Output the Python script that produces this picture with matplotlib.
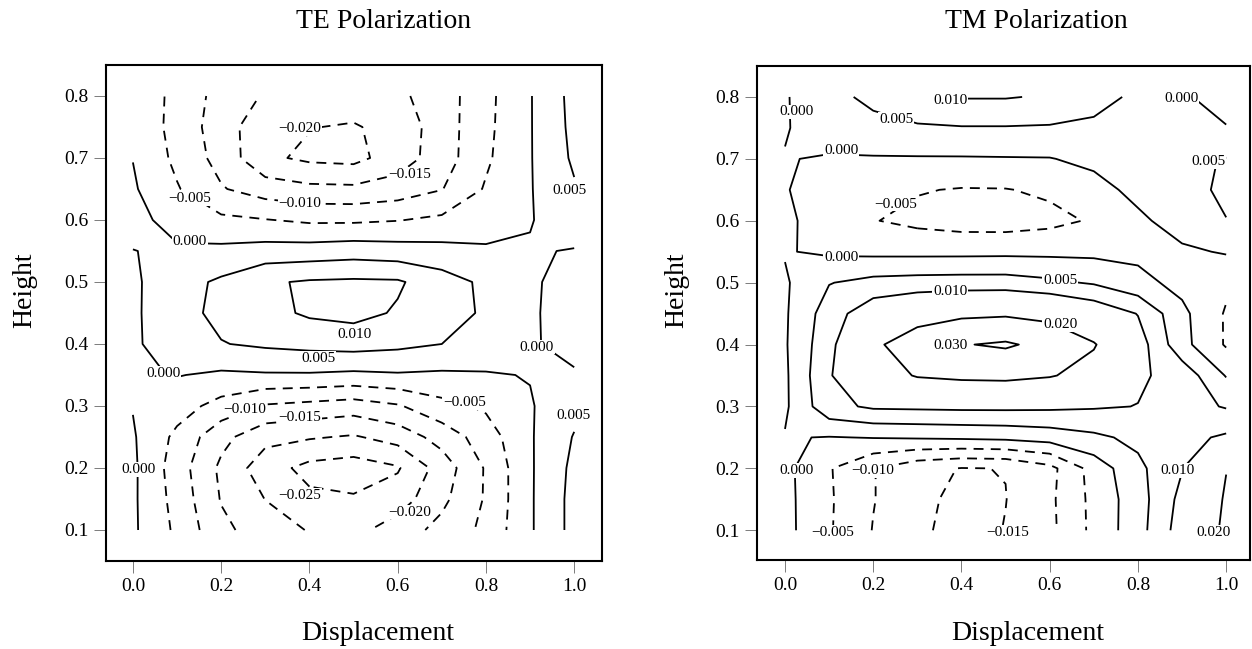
import numpy as np
import matplotlib
matplotlib.use("Agg")
import matplotlib.pyplot as plt

plt.rcParams["font.family"] = ["Liberation Serif", "DejaVu Serif"]
plt.rcParams["lines.dashed_pattern"] = [5.5, 4.0]

# Grid coordinates of the sampled fields
displacement = [0.0, 0.1, 0.2, 0.3, 0.4, 0.5, 0.6, 0.7, 0.8, 0.9, 1.0]
height = [0.10, 0.15, 0.20, 0.25, 0.30, 0.35, 0.40, 0.45,
          0.50, 0.55, 0.60, 0.65, 0.70, 0.75, 0.80]

# TE field: one list per displacement column, values from low to high height
te_columns = [
    [0.0008, 0.0008, 0.0009, 0.0005, -0.0002, -0.0006, -0.0007, -0.0008, -0.0008, -0.0001, 0.0018, 0.0006, -0.0001, -0.0010, -0.0012],
    [-0.0060, -0.0068, -0.0075, -0.0062, -0.0028, 0.0002, 0.0025, 0.0033, 0.0031, 0.0008, -0.0022, -0.0046, -0.0062, -0.0068, -0.0065],
    [-0.0138, -0.0153, -0.0160, -0.0135, -0.0068, -0.0008, 0.0048, 0.0062, 0.0058, 0.0012, -0.0040, -0.0096, -0.0118, -0.0125, -0.0118],
    [-0.0175, -0.0201, -0.0228, -0.0185, -0.0105, -0.0005, 0.0058, 0.0085, 0.0094, 0.0020, -0.0048, -0.0125, -0.0190, -0.0185, -0.0155],
    [-0.0203, -0.0240, -0.0265, -0.0195, -0.0115, -0.0005, 0.0065, 0.0107, 0.0105, 0.0022, -0.0058, -0.0138, -0.0210, -0.0198, -0.0165],
    [-0.0215, -0.0245, -0.0275, -0.0205, -0.0125, -0.0010, 0.0070, 0.0115, 0.0108, 0.0028, -0.0058, -0.0140, -0.0215, -0.0205, -0.0170],
    [-0.0175, -0.0225, -0.0255, -0.0180, -0.0105, -0.0005, 0.0062, 0.0095, 0.0106, 0.0022, -0.0052, -0.0128, -0.0175, -0.0180, -0.0160],
    [-0.0135, -0.0162, -0.0178, -0.0130, -0.0065, -0.0008, 0.0050, 0.0075, 0.0072, 0.0016, -0.0040, -0.0102, -0.0125, -0.0125, -0.0125],
    [-0.0088, -0.0095, -0.0095, -0.0075, -0.0042, -0.0004, 0.0032, 0.0042, 0.0040, 0.0008, -0.0028, -0.0045, -0.0058, -0.0062, -0.0064],
    [-0.0006, -0.0006, -0.0006, -0.0005, -0.0004, 0.0002, 0.0005, 0.0006, 0.0006, 0.0003, -0.0002, -0.0003, -0.0003, -0.0003, -0.0003],
    [0.0066, 0.0066, 0.0062, 0.0053, 0.0035, 0.0005, -0.0015, -0.0020, -0.0016, -0.0002, 0.0020, 0.0045, 0.0058, 0.0063, 0.0066],
]

# TM field: one list per height row, values from left to right in displacement
tm_rows = [
    [0.0015, -0.0045, -0.0102, -0.0138, -0.0172, -0.0148, -0.0112, -0.0037, 0.0030, 0.0125, 0.0215],
    [0.0014, -0.0044, -0.0098, -0.0135, -0.0165, -0.0151, -0.0110, -0.0036, 0.0028, 0.0115, 0.0208],
    [0.0013, -0.0046, -0.0098, -0.0135, -0.0152, -0.0149, -0.0115, -0.0030, 0.0038, 0.0098, 0.0198],
    [0.0003, -0.0002, 0.0002, 0.0005, 0.0008, 0.0012, 0.0022, 0.0040, 0.0062, 0.0085, 0.0108],
    [-0.0008, 0.0085, 0.0108, 0.0110, 0.0112, 0.0112, 0.0110, 0.0105, 0.0099, 0.0070, 0.0046],
    [-0.0008, 0.0095, 0.0165, 0.0205, 0.0215, 0.0218, 0.0205, 0.0175, 0.0108, 0.0081, -0.0003],
    [-0.0005, 0.0085, 0.0185, 0.0245, 0.0295, 0.0312, 0.0272, 0.0205, 0.0125, 0.0016, -0.0055],
    [-0.0006, 0.0075, 0.0135, 0.0165, 0.0182, 0.0188, 0.0172, 0.0140, 0.0098, 0.0012, -0.0055],
    [-0.0006, 0.0048, 0.0065, 0.0070, 0.0072, 0.0072, 0.0060, 0.0045, 0.0015, -0.0015, -0.0040],
    [0.0003, -0.0008, -0.0012, -0.0013, -0.0013, -0.0012, -0.0012, -0.0012, -0.0012, -0.0008, 0.0004],
    [0.0012, -0.0030, -0.0048, -0.0062, -0.0071, -0.0072, -0.0063, -0.0045, -0.0010, 0.0022, 0.0049],
    [0.0003, -0.0025, -0.0038, -0.0047, -0.0053, -0.0052, -0.0042, -0.0018, 0.0014, 0.0035, 0.0058],
    [0.0002, -0.0004, -0.0004, -0.0004, -0.0004, -0.0003, -0.0002, 0.0012, 0.0028, 0.0042, 0.0052],
    [-0.0003, 0.0022, 0.0035, 0.0043, 0.0047, 0.0047, 0.0045, 0.0040, 0.0035, 0.0025, 0.0003],
    [-0.0004, 0.0035, 0.0062, 0.0092, 0.0103, 0.0103, 0.0095, 0.0068, 0.0040, 0.0008, -0.0025],
]

te_levels = [-0.025, -0.020, -0.015, -0.010, -0.005, 0.000, 0.005, 0.010]
tm_levels = [-0.015, -0.010, -0.005, 0.000, 0.005, 0.010, 0.020, 0.030]

x_ticks = [0.0, 0.2, 0.4, 0.6, 0.8, 1.0]
y_ticks = [0.1, 0.2, 0.3, 0.4, 0.5, 0.6, 0.7, 0.8]

# Where each contour value is written (level, x, y)
te_label_spots = [
    (-0.020, 0.378, 0.747), (-0.015, 0.627, 0.673), (-0.010, 0.378, 0.626),
    (-0.005, 0.128, 0.635), (0.000, 0.129, 0.565), (0.005, 0.990, 0.647),
    (0.010, 0.502, 0.416), (0.000, 0.915, 0.395), (0.005, 0.420, 0.377),
    (0.000, 0.069, 0.352), (-0.005, 0.751, 0.306), (-0.010, 0.253, 0.294),
    (-0.015, 0.378, 0.281), (0.005, 0.998, 0.284), (0.000, 0.013, 0.198),
    (-0.025, 0.378, 0.156), (-0.020, 0.627, 0.129),
]
tm_label_spots = [
    (0.000, 0.026, 0.776), (0.010, 0.374, 0.795), (0.005, 0.252, 0.764),
    (0.000, 0.898, 0.797), (0.005, 0.959, 0.695), (0.000, 0.127, 0.714),
    (-0.005, 0.251, 0.627), (0.000, 0.127, 0.541), (0.005, 0.624, 0.503),
    (0.010, 0.374, 0.485), (0.020, 0.624, 0.432), (0.030, 0.374, 0.398),
    (0.000, 0.026, 0.197), (-0.010, 0.198, 0.197), (0.010, 0.890, 0.197),
    (-0.005, 0.107, 0.097), (-0.015, 0.504, 0.097), (0.020, 0.971, 0.097),
]


def level_text(v):
    s = f"{abs(v):.3f}"
    return ("\u2212" + s) if v < 0 else s


def draw_panel(ax, field, levels, spots, xlim, ylim):
    X, Y = np.meshgrid(displacement, height)
    styles = ["solid" if lv >= 0 else "dashed" for lv in levels]
    ax.contour(X, Y, field, levels=levels, colors="black",
               linewidths=1.3, linestyles=styles)
    for lv, x, y in spots:
        ax.text(x, y, level_text(lv), ha="center", va="center", fontsize=11,
                zorder=5,
                bbox=dict(boxstyle="square,pad=0.05", fc="white", ec="none"))
    ax.set_xlim(*xlim)
    ax.set_ylim(*ylim)
    ax.set_xticks(x_ticks)
    ax.set_xticklabels([f"{t:.1f}" for t in x_ticks])
    ax.set_yticks(y_ticks)
    ax.set_yticklabels([f"{t:.1f}" for t in y_ticks])
    ax.tick_params(direction="out", length=8.5, width=0.6, color="#666666",
                   labelsize=14, pad=4)
    for sp in ax.spines.values():
        sp.set_linewidth(1.5)


W, H = 1252, 649
fig = plt.figure(figsize=(W / 100, H / 100), dpi=100)

ax_te = fig.add_axes([106 / W, 1 - 561 / H, (602 - 106) / W, (561 - 65) / H])
ax_tm = fig.add_axes([757 / W, 1 - 560 / H, (1250 - 757) / W, (560 - 66) / H])

draw_panel(ax_te, np.array(te_columns).T, te_levels, te_label_spots,
           (-0.061, 1.063), (0.05, 0.85))
draw_panel(ax_tm, np.array(tm_rows), tm_levels, tm_label_spots,
           (-0.0635, 1.054), (0.052, 0.85))

# Titles and axis labels
fig.text(384 / W, 1 - 21 / H, "TE Polarization", ha="center", va="center", fontsize=20)
fig.text(1036 / W, 1 - 21 / H, "TM Polarization", ha="center", va="center", fontsize=20)
fig.text(378 / W, 1 - 633 / H, "Displacement", ha="center", va="center", fontsize=20)
fig.text(1028 / W, 1 - 633 / H, "Displacement", ha="center", va="center", fontsize=20)
fig.text(25 / W, 1 - 290 / H, "Height", ha="center", va="center", fontsize=20, rotation=90)
fig.text(677 / W, 1 - 290 / H, "Height", ha="center", va="center", fontsize=20, rotation=90)

fig.savefig("out.png", dpi=100)
